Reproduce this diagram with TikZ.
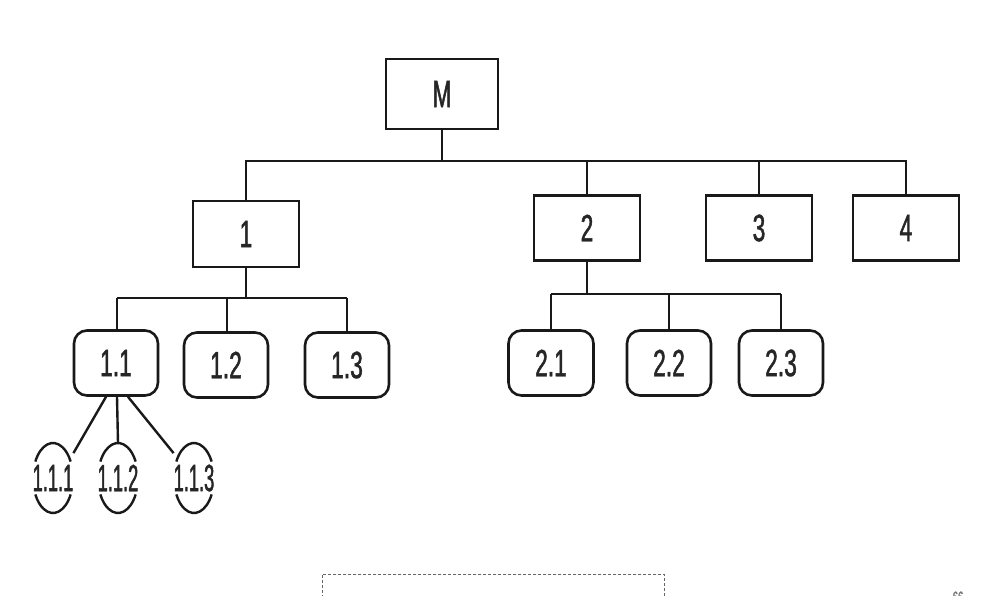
\documentclass[tikz,border=0pt]{standalone}
\usepackage{fontspec}
\setmainfont{Liberation Sans}[FakeStretch=0.6,FakeBold=1.2]
\newfontfamily\leaffont{Liberation Sans}[FakeStretch=0.48,FakeBold=1.2]
\usetikzlibrary{shapes.geometric}
\begin{document}
\begin{tikzpicture}[x=1pt,y=-1pt,
  lw/.style={line width=2.6pt},
  sqbox/.style={draw=black!90,lw,rectangle,inner sep=0pt,minimum width=106pt,minimum height=66pt,font=\fontsize{38}{40}\selectfont,text=black!85},
  rbox/.style={draw=black!90,lw,rectangle,rounded corners=13pt,inner sep=0pt,minimum width=84pt,minimum height=65pt,font=\fontsize{38}{40}\selectfont,text=black!85},
  leaf/.style={ellipse,draw=none,inner sep=0pt,minimum width=40pt,minimum height=70pt,font=\leaffont\fontsize{38}{40}\selectfont,text=black!85},
  conn/.style={draw=black!90,line width=2.4pt},
  arcs/.style={draw=black!90,line width=2.4pt}
]
\useasboundingbox (0,0) rectangle (986,596);
\fill[white] (0,0) rectangle (986,596);
% top
\node[sqbox,minimum width=112pt,minimum height=70pt] (M) at (442,94) {M};
% level 1
\node[sqbox] (n1) at (246,234) {1};
\node[sqbox,minimum height=65pt] (n2) at (587,228) {2};
\node[sqbox,minimum height=65pt] (n3) at (759,228) {3};
\node[sqbox,minimum height=65pt] (n4) at (906,228) {4};
% level 2
\node[rbox] (n11) at (116,363) {1.1};
\node[rbox] (n12) at (226,365) {1.2};
\node[rbox] (n13) at (347,365) {1.3};
\node[rbox,minimum width=85pt] (n21) at (551,363) {2.1};
\node[rbox] (n22) at (669,363) {2.2};
\node[rbox] (n23) at (781,363) {2.3};
% level 3
\node[leaf] (n111) at (53,478) {1.1.1};
\node[leaf] (n112) at (118,478) {1.1.2};
\node[leaf] (n113) at (194,478) {1.1.3};
\foreach \n in {n111,n112,n113}{
  \draw[arcs] (\n.center) ++(28:20 and 35) arc[start angle=28,end angle=152,x radius=20,y radius=35];
  \draw[arcs] (\n.center) ++(208:20 and 35) arc[start angle=208,end angle=332,x radius=20,y radius=35];
}
% bus coordinates
\coordinate (b0) at (442,161);
\coordinate (c0) at (246,298);
\coordinate (c1) at (117,298);
\coordinate (c3) at (347,298);
\coordinate (d0) at (587,294);
\coordinate (d1) at (551,294);
\coordinate (d3) at (781,294);
% connectors
\draw[conn] (M.south) -- (b0);
\draw[conn] (n1.north) |- (n4.north |- b0) -- (n4.north);
\draw[conn] (n2.north) -- (n2.north |- b0);
\draw[conn] (n3.north) -- (n3.north |- b0);
\draw[conn] (n1.south) -- (c0);
\draw[conn] (c1) -- (c3);
\draw[conn] ([xshift=1pt]n11.north) -- ([xshift=1pt]n11.north |- c1);
\draw[conn] ([xshift=1pt]n12.north) -- ([xshift=1pt]n12.north |- c1);
\draw[conn] (n13.north) -- (c3);
\draw[conn] (n2.south) -- (d0);
\draw[conn] (d1) -- (d3);
\draw[conn] (n21.north) -- (d1);
\draw[conn] (n22.north) -- (n22.north |- d1);
\draw[conn] (n23.north) -- (d3);
\draw[conn] ([xshift=-10pt]n11.south) -- (n111.north east);
\draw[conn] ([xshift=1pt]n11.south) -- (n112.north);
\draw[conn] ([xshift=12pt]n11.south) -- (n113.north west);
% bottom dotted frame and page number
\node[draw=black!60,densely dashed,line width=0.8pt,minimum width=342pt,minimum height=60pt,inner sep=0pt,anchor=north west] (frame) at (322,574) {};
\node[text=black!55,font=\fontsize{16}{16}\selectfont,anchor=north] (pg) at (958,588) {66};
\end{tikzpicture}
\end{document}
